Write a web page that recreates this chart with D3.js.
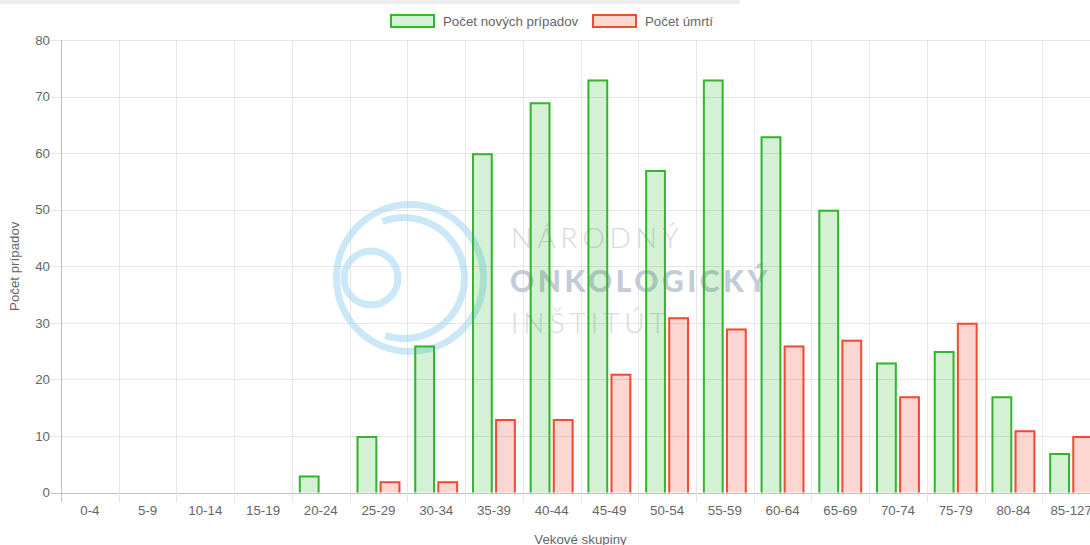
<!DOCTYPE html>
<html>
<head>
<meta charset="utf-8">
<script src="https://cdn.jsdelivr.net/npm/d3@7"></script>
<style>
  html, body { margin: 0; padding: 0; background: #fff; overflow: hidden; }
  svg { display: block; font-family: "Liberation Sans", Arial, Helvetica, sans-serif; }
</style>
</head>
<body>
<div id="container"></div>
<script>
/* DATA */
const ageGroups = ["0-4", "5-9", "10-14", "15-19", "20-24", "25-29", "30-34", "35-39", "40-44",
  "45-49", "50-54", "55-59", "60-64", "65-69", "70-74", "75-79", "80-84", "85-127"];
const newCases = [0, 0, 0, 0, 3, 10, 26, 60, 69, 73, 57, 73, 63, 50, 23, 25, 17, 7];
const deaths   = [0, 0, 0, 0, 0, 2, 2, 13, 13, 21, 31, 29, 26, 27, 17, 30, 11, 10];
const seriesNames = ["Počet nových prípadov", "Počet úmrtí"];
const yTicks = [0, 10, 20, 30, 40, 50, 60, 70, 80];

/* CONSTANTS */
const width = 1090, height = 545;
// the chart area runs a bit past the window on the right, like the original page
const margin = {top: 40, bottom: 52, left: 61, right: -10};
const fontSize = 13.3;
const colors = [
  {stroke: "#35b52d", fill: "rgba(46,184,46,0.2)"},
  {stroke: "#f24b33", fill: "rgba(242,75,51,0.22)"}
];

const svg = d3.select("#container")
  .append("svg")
  .attr("width", width)
  .attr("height", height);

// grey strip at the very top of the page
svg.append("rect")
  .attr("x", 0).attr("y", 0)
  .attr("width", 740).attr("height", 4)
  .attr("fill", "#eeeeee");

/* SCALES */
const xScale = d3.scaleBand()
  .domain(ageGroups)
  .range([margin.left, width - margin.right]);

const inner = d3.scaleBand()
  .domain(seriesNames)
  .range([xScale.bandwidth() * 0.1, xScale.bandwidth() * 0.9])
  .paddingInner(0.1)
  .paddingOuter(0.05);

const yScale = d3.scaleLinear()
  .domain([0, 80])
  .range([height - margin.bottom - 0.5, margin.top]);

/* GRID */
const grid = svg.append("g").attr("class", "grid");
grid.selectAll(".hgrid")
  .data(yTicks)
  .join("line")
  .attr("x1", margin.left - 10)
  .attr("x2", width)
  .attr("y1", d => Math.round(yScale(d)) + 0.5)
  .attr("y2", d => Math.round(yScale(d)) + 0.5)
  .attr("stroke", d => d === 0 ? "#c0c0c0" : "#e6e6e6");

const bounds = ageGroups.map(d => xScale(d)).slice(1);
grid.selectAll(".vgrid")
  .data(bounds)
  .join("line")
  .attr("x1", d => Math.round(d) + 0.5)
  .attr("x2", d => Math.round(d) + 0.5)
  .attr("y1", margin.top)
  .attr("y2", yScale(0) + 10)
  .attr("stroke", "#e6e6e6");

// left axis line
svg.append("line")
  .attr("x1", margin.left + 0.5).attr("x2", margin.left + 0.5)
  .attr("y1", margin.top).attr("y2", yScale(0) + 10)
  .attr("stroke", "#c0c0c0");

/* WATERMARK */
const wm = svg.append("g").attr("class", "watermark");
const logoCol = "#9fd6f0";
wm.append("circle")
  .attr("cx", 410).attr("cy", 278).attr("r", 73.5)
  .attr("fill", "none").attr("stroke", logoCol).attr("stroke-width", 7).attr("opacity", 0.55);
wm.append("path")
  .attr("transform", "translate(404,278)")
  .attr("d", d3.arc()({innerRadius: 57, outerRadius: 64, startAngle: -21 * Math.PI / 180, endAngle: 198 * Math.PI / 180}))
  .attr("fill", logoCol).attr("opacity", 0.55);
wm.append("circle")
  .attr("cx", 371).attr("cy", 278).attr("r", 27)
  .attr("fill", "none").attr("stroke", logoCol).attr("stroke-width", 7).attr("opacity", 0.55);

wm.append("text")
  .attr("x", 511).attr("y", 248)
  .attr("font-family", "Lato, 'Open Sans', sans-serif")
  .attr("font-weight", 300)
  .attr("font-size", 28)
  .attr("letter-spacing", 5)
  .attr("fill", "#d3dae2")
  .text("NÁRODNÝ");
wm.append("text")
  .attr("x", 510).attr("y", 292)
  .attr("font-family", "Lato, 'Open Sans', sans-serif")
  .attr("font-weight", 900)
  .attr("font-size", 30)
  .attr("letter-spacing", 3.5)
  .attr("fill", "#c3ccd6")
  .text("ONKOLOGICKÝ");
wm.append("text")
  .attr("x", 511).attr("y", 333)
  .attr("font-family", "Lato, 'Open Sans', sans-serif")
  .attr("font-weight", 300)
  .attr("font-size", 28)
  .attr("letter-spacing", 5)
  .attr("fill", "#d3dae2")
  .text("INŠTITÚT");

/* BARS */
const rows = ageGroups.map((g, i) => ({group: g, values: [newCases[i], deaths[i]]}));

// open-bottom bar outline, border drawn inside the bar like Chart.js
function barPath(x, w, v) {
  const y0 = yScale(0), y1 = yScale(v);
  return `M${x + 1},${y0} V${y1 + 1} H${x + w - 1} V${y0}`;
}

seriesNames.forEach((name, s) => {
  const g = svg.append("g").attr("class", "series-" + s);
  const data = rows.filter(d => d.values[s] > 0);
  g.selectAll("rect")
    .data(data)
    .join("rect")
    .attr("x", d => xScale(d.group) + inner(name))
    .attr("width", inner.bandwidth())
    .attr("y", d => yScale(d.values[s]))
    .attr("height", d => yScale(0) - yScale(d.values[s]))
    .attr("fill", colors[s].fill);
  g.selectAll("path")
    .data(data)
    .join("path")
    .attr("d", d => barPath(xScale(d.group) + inner(name), inner.bandwidth(), d.values[s]))
    .attr("fill", "none")
    .attr("stroke", colors[s].stroke)
    .attr("stroke-width", 2);
});

/* AXES */
const yAxis = d3.axisLeft(yScale).tickValues(yTicks).tickSize(0).tickPadding(11);
svg.append("g")
  .attr("transform", `translate(${margin.left},0)`)
  .call(yAxis)
  .call(g => g.select(".domain").remove())
  .selectAll("text")
  .attr("font-size", fontSize)
  .attr("fill", "#666")
  .attr("font-family", "Liberation Sans, Arial, sans-serif");

const xAxis = d3.axisBottom(xScale).tickSize(0).tickPadding(13);
svg.append("g")
  .attr("transform", `translate(0,${yScale(0)})`)
  .call(xAxis)
  .call(g => g.select(".domain").remove())
  .selectAll("text")
  .attr("font-size", fontSize)
  .attr("fill", "#666")
  .attr("font-family", "Liberation Sans, Arial, sans-serif");

// axis titles
svg.append("text")
  .attr("transform", `translate(19,${(margin.top + yScale(0)) / 2}) rotate(-90)`)
  .attr("text-anchor", "middle")
  .attr("font-size", fontSize)
  .attr("fill", "#666")
  .text("Počet prípadov");

svg.append("text")
  .attr("x", (margin.left + width - margin.right) / 2)
  .attr("y", 544)
  .attr("text-anchor", "middle")
  .attr("font-size", fontSize)
  .attr("fill", "#666")
  .text("Vekové skupiny");

/* LEGEND */
const legendX = [390, 592];
const legend = svg.append("g").attr("class", "legend");
seriesNames.forEach((name, s) => {
  legend.append("rect")
    .attr("x", legendX[s] + 1).attr("y", 15)
    .attr("width", 43).attr("height", 12)
    .attr("fill", colors[s].fill)
    .attr("stroke", colors[s].stroke)
    .attr("stroke-width", 2);
  legend.append("text")
    .attr("x", legendX[s] + 53).attr("y", 26)
    .attr("font-size", fontSize)
    .attr("fill", "#666")
    .text(name);
});
</script>
</body>
</html>
